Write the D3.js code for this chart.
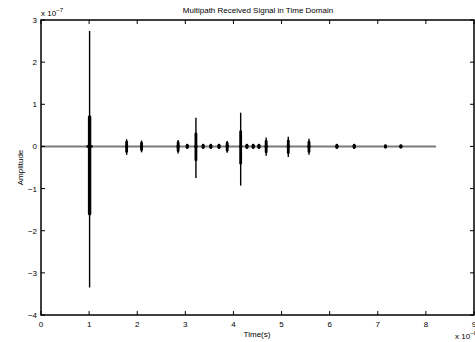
<!DOCTYPE html>
<html>
<head>
<meta charset="utf-8">
<script src="https://cdn.jsdelivr.net/npm/d3@7"></script>
<style>
  body { margin: 0; background: #fff; }
  svg { display: block; }
  text { font-family: "Liberation Sans", Arial, sans-serif; fill: #000; }
</style>
</head>
<body>
<svg id="chart" width="475" height="342"></svg>
<script>
// echo times (x 1e-8 s) and envelope of each received pulse (x 1e-7)
var pulseTime = [1.01, 1.78, 2.09, 2.85, 3.04, 3.22, 3.37, 3.53, 3.70, 3.87, 4.15, 4.28, 4.41, 4.53, 4.68, 5.14, 5.57, 6.15, 6.51, 7.16, 7.48]
var pulseHigh = [2.74, 0.17, 0.14, 0.15, 0.04, 0.68, 0.04, 0.04, 0.04, 0.13, 0.80, 0.04, 0.04, 0.04, 0.21, 0.23, 0.18, 0.04, 0.04, 0.03, 0.03]
var pulseLow  = [-3.35, -0.20, -0.14, -0.17, -0.04, -0.75, -0.04, -0.04, -0.04, -0.15, -0.93, -0.04, -0.04, -0.04, -0.22, -0.25, -0.20, -0.04, -0.04, -0.03, -0.03]
var coreHigh  = [0.70, 0.10, 0.08, 0.09, 0.03, 0.30, 0.03, 0.03, 0.03, 0.08, 0.35, 0.03, 0.03, 0.03, 0.12, 0.13, 0.10, 0.03, 0.03, 0.02, 0.02]
var coreLow   = [-1.60, -0.12, -0.08, -0.10, -0.03, -0.32, -0.03, -0.03, -0.03, -0.09, -0.40, -0.03, -0.03, -0.03, -0.13, -0.15, -0.12, -0.03, -0.03, -0.02, -0.02]
var traceEnd = 8.21

var xTicks = [0, 1, 2, 3, 4, 5, 6, 7, 8, 9]
var yTicks = [-4, -3, -2, -1, 0, 1, 2, 3]

// plot box (window.top is read-only, so own names)
var boxL = 41, boxR = 474, boxT = 20, boxB = 315

var svg = d3.select('#chart')
var x = d3.scaleLinear().domain([0, 9]).range([boxL, boxR])
var y = d3.scaleLinear().domain([-4, 3]).range([boxB, boxT])

function fmt(d) { return d < 0 ? '\u2212' + (-d) : '' + d }

// baseline of the trace
svg.append('line')
  .attr('x1', x(0)).attr('x2', x(traceEnd))
  .attr('y1', y(0)).attr('y2', y(0))
  .attr('stroke', '#7a7a7a').attr('stroke-width', 2)

// pulses: thin full swing plus thicker core
var g = svg.append('g')
g.selectAll('line.thin').data(pulseTime).enter().append('line')
  .attr('class', 'thin')
  .attr('x1', function (d) { return x(d) }).attr('x2', function (d) { return x(d) })
  .attr('y1', function (d, i) { return y(pulseHigh[i]) })
  .attr('y2', function (d, i) { return y(pulseLow[i]) })
  .attr('stroke', '#000').attr('stroke-width', 1.4)
g.selectAll('line.core').data(pulseTime).enter().append('line')
  .attr('class', 'core')
  .attr('x1', function (d) { return x(d) }).attr('x2', function (d) { return x(d) })
  .attr('y1', function (d, i) { return y(coreHigh[i]) })
  .attr('y2', function (d, i) { return y(coreLow[i]) })
  .attr('stroke', '#000').attr('stroke-width', function (d, i) { return i == 0 ? 3.4 : 2.8 })
  .attr('stroke-linecap', 'round')
// small bump on the baseline where the pulses cross zero
g.selectAll('line.bump').data(pulseTime).enter().append('line')
  .attr('class', 'bump')
  .attr('x1', function (d, i) { return x(d) - (i == 0 ? 3 : 1.5) })
  .attr('x2', function (d, i) { return x(d) + (i == 0 ? 3 : 1.5) })
  .attr('y1', y(0)).attr('y2', y(0))
  .attr('stroke', '#000').attr('stroke-width', 2.6)

// box
svg.append('rect')
  .attr('x', boxL).attr('y', boxT)
  .attr('width', boxR - boxL).attr('height', boxB - boxT)
  .attr('fill', 'none').attr('stroke', '#000').attr('stroke-width', 1.5)

// inward ticks on all four sides
var tl = 4
svg.append('g').selectAll('path').data(xTicks).enter().append('path')
  .attr('d', function (d) {
    return 'M' + x(d) + ',' + boxB + 'v' + (-tl) + 'M' + x(d) + ',' + boxT + 'v' + tl
  })
  .attr('stroke', '#000').attr('stroke-width', 1)
svg.append('g').selectAll('path').data(yTicks).enter().append('path')
  .attr('d', function (d) {
    return 'M' + boxL + ',' + y(d) + 'h' + tl + 'M' + boxR + ',' + y(d) + 'h' + (-tl)
  })
  .attr('stroke', '#000').attr('stroke-width', 1)

// tick labels
svg.append('g').selectAll('text').data(xTicks).enter().append('text')
  .attr('x', function (d) { return x(d) }).attr('y', boxB + 12)
  .attr('text-anchor', 'middle').attr('font-size', 8)
  .text(fmt)
svg.append('g').selectAll('text').data(yTicks).enter().append('text')
  .attr('x', boxL - 4).attr('y', function (d) { return y(d) + 3 })
  .attr('text-anchor', 'end').attr('font-size', 8)
  .text(fmt)

// exponents
var ey = svg.append('text').attr('x', boxL).attr('y', 16).attr('font-size', 8)
ey.append('tspan').text('x 10')
ey.append('tspan').attr('dy', -4).attr('font-size', 6).text('\u22127')
var ex = svg.append('text').attr('x', 455).attr('y', 339).attr('font-size', 8)
ex.append('tspan').text('x 10')
ex.append('tspan').attr('dy', -4).attr('font-size', 6).text('\u22128')

// titles
svg.append('text').attr('x', 258).attr('y', 13)
  .attr('text-anchor', 'middle').attr('font-size', 8)
  .text('Multipath Received Signal in Time Domain')
svg.append('text').attr('x', 257).attr('y', 337)
  .attr('text-anchor', 'middle').attr('font-size', 8)
  .text('Time(s)')
svg.append('text')
  .attr('transform', 'translate(23,' + (y(-0.5)) + ') rotate(-90)')
  .attr('text-anchor', 'middle').attr('font-size', 8)
  .text('Amplitude')
</script>
</body>
</html>
